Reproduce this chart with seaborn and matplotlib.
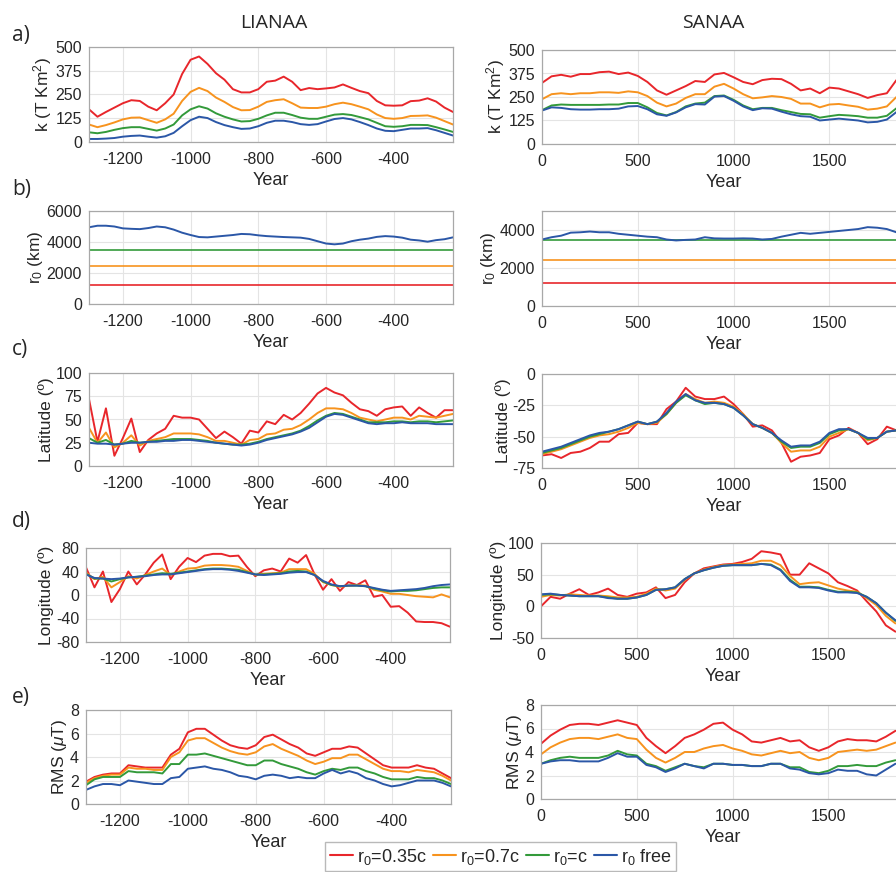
import pandas as pd
import seaborn as sns
import matplotlib.pyplot as plt
from matplotlib.lines import Line2D

# ---------------------------------------------------------------------------
# data
# ---------------------------------------------------------------------------
models = ["r$_0$=0.35c", "r$_0$=0.7c", "r$_0$=c", "r$_0$ free"]
colors = ["#e8262b", "#f7931e", "#339a3a", "#2b57a7"]

years_lianaa = list(range(-1300, -224, 25))
years_sanaa = list(range(0, 1851, 50))

# fixed r0 values (km)
r0_fixed = [1218, 2436, 3480]

# ---- LIANAA ----
k_lia_035 = [172, 133, 158, 181, 204, 220, 216, 186, 167, 204, 250, 358, 433, 450, 411, 362,
             328, 278, 261, 261, 278, 317, 323, 344, 317, 273, 284, 278, 282, 287, 303, 285,
             268, 257, 216, 193, 191, 193, 215, 218, 230, 213, 181, 158]
k_lia_07 = [92, 78, 89, 103, 119, 128, 129, 115, 101, 119, 149, 216, 264, 285, 268, 234,
            211, 184, 167, 168, 186, 211, 220, 225, 204, 181, 179, 179, 186, 199, 207, 199,
            186, 172, 145, 126, 122, 126, 137, 138, 140, 128, 110, 92]
k_lia_c = [51, 46, 53, 64, 73, 78, 78, 69, 60, 71, 92, 140, 172, 188, 176, 151,
           133, 119, 108, 110, 122, 140, 154, 154, 142, 128, 122, 122, 133, 144, 147, 142,
           131, 119, 101, 83, 80, 83, 90, 90, 89, 78, 66, 53]
k_lia_free = [16, 16, 18, 21, 28, 32, 34, 28, 23, 30, 48, 83, 115, 133, 126, 105,
              89, 78, 69, 71, 83, 101, 112, 112, 105, 94, 90, 94, 108, 121, 126, 119,
              105, 89, 71, 59, 57, 64, 71, 71, 73, 62, 48, 34]

r0_lia_free = [4950, 5050, 5050, 5000, 4880, 4850, 4830, 4900, 5000, 4950, 4800, 4600,
               4450, 4320, 4300, 4350, 4400, 4450, 4520, 4500, 4430, 4380, 4350, 4320,
               4300, 4280, 4200, 4050, 3900, 3850, 3900, 4050, 4150, 4220, 4330, 4380,
               4350, 4280, 4150, 4100, 4020, 4120, 4180, 4300]

lat_lia_035 = [72, 26, 62, 11, 30, 51, 15, 28, 35, 40, 54, 52, 52, 50, 40, 30,
               37, 31, 24, 38, 36, 48, 45, 55, 50, 57, 67, 78, 84, 79, 76, 68,
               61, 59, 54, 61, 63, 64, 54, 63, 57, 52, 60, 60]
lat_lia_07 = [41, 25, 36, 20, 25, 33, 22, 27, 29, 31, 35, 35, 35, 34, 31, 27,
              27, 25, 23, 28, 29, 34, 35, 39, 40, 44, 50, 57, 62, 62, 61, 57,
              52, 50, 48, 50, 52, 52, 50, 54, 53, 52, 54, 56]
lat_lia_c = [30, 25, 28, 23, 24, 27, 25, 26, 27, 28, 29, 29, 29, 28, 27, 25,
             24, 23, 23, 24, 26, 29, 31, 33, 35, 38, 43, 49, 54, 57, 56, 53,
             50, 47, 47, 47, 48, 48, 47, 48, 48, 47, 48, 49]
lat_lia_free = [25, 24, 24, 23, 24, 25, 25, 26, 26, 27, 27, 28, 28, 27, 26, 25,
                24, 23, 22, 23, 25, 28, 30, 32, 34, 37, 41, 47, 53, 56, 55, 52,
                49, 46, 45, 46, 46, 47, 46, 46, 46, 45, 45, 45]

lon_lia_035 = [47, 13, 40, -12, 10, 40, 18, 35, 55, 69, 27, 48, 63, 56, 67, 70,
               70, 66, 67, 48, 32, 42, 45, 40, 62, 55, 68, 35, 9, 27, 7, 22,
               17, 25, -3, 0, -20, -19, -30, -45, -46, -46, -48, -54]
lon_lia_07 = [38, 27, 31, 13, 22, 32, 28, 34, 40, 45, 34, 40, 45, 46, 50, 51,
              51, 50, 48, 41, 34, 36, 37, 38, 44, 44, 44, 36, 22, 17, 14, 16,
              17, 16, 9, 6, 2, 2, 0, -2, -3, -4, 1, -4]
lon_lia_c = [36, 28, 28, 23, 27, 30, 31, 33, 35, 37, 36, 38, 40, 42, 44, 45,
             45, 44, 43, 39, 35, 35, 36, 37, 40, 41, 40, 34, 23, 17, 15, 16,
             16, 15, 11, 8, 6, 7, 7, 8, 10, 12, 13, 13]
lon_lia_free = [35, 29, 28, 27, 28, 30, 31, 32, 34, 35, 35, 37, 39, 41, 43, 44,
                44, 43, 41, 38, 35, 34, 35, 36, 38, 39, 39, 34, 24, 18, 15, 16,
                16, 15, 12, 9, 7, 8, 9, 10, 12, 15, 17, 18]

rms_lia_035 = [1.9, 2.3, 2.5, 2.6, 2.6, 3.3, 3.2, 3.1, 3.1, 3.1, 4.2, 4.7, 6.1, 6.4, 6.4, 5.9,
               5.4, 5.0, 4.8, 4.7, 5.0, 5.7, 5.9, 5.5, 5.1, 4.8, 4.3, 4.1, 4.4, 4.7, 4.7, 4.9,
               4.8, 4.3, 3.8, 3.3, 3.1, 3.1, 3.1, 3.3, 3.1, 3.0, 2.6, 2.2]
rms_lia_07 = [1.8, 2.2, 2.4, 2.5, 2.5, 3.1, 3.0, 3.0, 2.9, 2.9, 4.0, 4.4, 5.4, 5.6, 5.6, 5.2,
              4.8, 4.5, 4.3, 4.2, 4.4, 4.9, 5.1, 4.7, 4.4, 4.1, 3.7, 3.4, 3.6, 3.9, 3.9, 4.2,
              4.2, 3.8, 3.4, 3.0, 2.8, 2.8, 2.7, 2.9, 2.8, 2.7, 2.4, 2.0]
rms_lia_c = [1.6, 2.1, 2.3, 2.3, 2.3, 2.8, 2.7, 2.7, 2.7, 2.6, 3.4, 3.4, 4.2, 4.2, 4.3, 4.1,
             3.9, 3.7, 3.5, 3.3, 3.3, 3.7, 3.7, 3.4, 3.2, 3.0, 2.7, 2.5, 2.8, 3.0, 2.9, 3.1,
             3.1, 2.8, 2.6, 2.3, 2.1, 2.1, 2.1, 2.3, 2.2, 2.2, 2.0, 1.7]
rms_lia_free = [1.2, 1.5, 1.7, 1.7, 1.6, 2.0, 1.9, 1.8, 1.7, 1.7, 2.2, 2.3, 3.0, 3.1, 3.2, 3.0,
                2.9, 2.7, 2.4, 2.3, 2.1, 2.4, 2.5, 2.4, 2.2, 2.3, 2.2, 2.2, 2.6, 2.9, 2.6, 2.8,
                2.6, 2.2, 2.0, 1.7, 1.5, 1.6, 1.8, 2.0, 2.0, 2.0, 1.8, 1.5]

# ---- SANAA ----
k_san_035 = [325, 360, 368, 358, 372, 372, 382, 385, 372, 380, 362, 330, 285, 262, 285, 308,
             335, 330, 370, 378, 355, 330, 318, 340, 347, 345, 320, 285, 295, 270, 300, 295,
             280, 265, 245, 260, 270, 340]
k_san_07 = [238, 265, 270, 265, 270, 270, 275, 275, 272, 280, 275, 255, 220, 200, 215, 245,
            265, 265, 305, 320, 295, 265, 243, 248, 255, 250, 240, 215, 215, 195, 210, 213,
            205, 198, 183, 188, 200, 250]
k_san_c = [180, 205, 210, 208, 208, 208, 208, 210, 210, 218, 218, 195, 165, 152, 170, 200,
           215, 220, 255, 258, 235, 205, 185, 192, 192, 180, 170, 160, 158, 140, 148, 155,
           152, 148, 140, 140, 150, 190]
k_san_free = [178, 195, 192, 185, 183, 183, 185, 185, 188, 200, 202, 185, 158, 150, 168, 195,
              212, 210, 252, 255, 230, 200, 180, 190, 188, 172, 158, 148, 145, 125, 130, 135,
              130, 125, 115, 118, 130, 170]

r0_san_free = [3500, 3620, 3700, 3860, 3880, 3920, 3880, 3880, 3800, 3750, 3700, 3650,
               3620, 3500, 3450, 3480, 3500, 3620, 3560, 3550, 3550, 3560, 3550, 3500,
               3530, 3650, 3750, 3850, 3800, 3850, 3900, 3950, 4000, 4050, 4150, 4120,
               4050, 3880]

lat_san_035 = [-65, -64, -67, -63, -62, -59, -54, -54, -48, -47, -39, -40, -40, -28, -22, -11,
               -18, -20, -20, -18, -24, -32, -42, -41, -45, -55, -70, -66, -65, -63, -52, -49,
               -43, -47, -56, -52, -42, -45]
lat_san_07 = [-64, -62, -60, -57, -54, -51, -49, -48, -46, -43, -39, -40, -39, -32, -23, -16,
              -20, -23, -22, -23, -26, -32, -40, -43, -47, -55, -62, -61, -61, -58, -50, -47,
              -44, -47, -53, -51, -46, -45]
lat_san_c = [-63, -61, -59, -56, -53, -50, -48, -46, -44, -41, -38, -40, -38, -32, -23, -17,
             -21, -24, -23, -24, -27, -33, -40, -43, -47, -54, -59, -58, -58, -55, -48, -45,
             -44, -47, -52, -51, -46, -45]
lat_san_free = [-62, -60, -58, -55, -52, -49, -47, -46, -44, -41, -38, -40, -38, -31, -22, -16,
                -21, -23, -23, -24, -27, -33, -40, -43, -47, -53, -58, -57, -57, -54, -47, -44,
                -44, -47, -51, -51, -46, -45]

lon_san_035 = [0, 15, 12, 20, 27, 18, 22, 28, 18, 15, 20, 22, 30, 13, 18, 38,
               52, 60, 63, 66, 67, 70, 75, 87, 85, 82, 50, 50, 68, 60, 52, 38,
               32, 25, 8, -8, -30, -40]
lon_san_07 = [15, 18, 17, 19, 18, 17, 17, 16, 14, 14, 15, 20, 28, 25, 28, 42,
              52, 58, 62, 65, 66, 67, 68, 72, 72, 65, 48, 35, 37, 38, 33, 28,
              25, 23, 13, 2, -15, -27]
lon_san_c = [18, 19, 18, 17, 16, 16, 16, 14, 12, 12, 14, 18, 26, 27, 30, 43,
             52, 57, 61, 64, 65, 65, 65, 67, 66, 58, 42, 31, 31, 30, 26, 23,
             23, 22, 15, 5, -10, -23]
lon_san_free = [19, 20, 18, 17, 16, 16, 16, 13, 12, 12, 14, 18, 26, 27, 30, 43,
                52, 57, 61, 64, 65, 65, 65, 67, 65, 57, 40, 30, 30, 29, 25, 22,
                22, 21, 15, 5, -10, -22]

rms_san_035 = [4.7, 5.4, 5.9, 6.3, 6.4, 6.4, 6.3, 6.5, 6.7, 6.5, 6.3, 5.2, 4.5, 3.9, 4.5, 5.2,
               5.5, 5.9, 6.4, 6.5, 5.9, 5.5, 4.9, 4.8, 5.0, 5.2, 4.9, 5.0, 4.4, 4.1, 4.4, 4.9,
               5.1, 5.0, 5.0, 4.9, 5.3, 5.8]
rms_san_07 = [3.8, 4.4, 4.8, 5.1, 5.2, 5.2, 5.1, 5.3, 5.5, 5.2, 5.1, 4.2, 3.5, 3.1, 3.5, 4.0,
              4.0, 4.3, 4.5, 4.6, 4.3, 4.1, 3.8, 3.7, 3.9, 4.1, 3.9, 4.0, 3.5, 3.3, 3.5, 4.0,
              4.1, 4.2, 4.1, 4.2, 4.5, 4.8]
rms_san_c = [3.0, 3.3, 3.5, 3.6, 3.5, 3.5, 3.5, 3.7, 4.1, 3.8, 3.7, 3.0, 2.8, 2.4, 2.7, 3.0,
             2.8, 2.7, 3.0, 3.0, 2.9, 2.9, 2.8, 2.8, 3.0, 3.0, 2.7, 2.7, 2.3, 2.2, 2.4, 2.8,
             2.8, 2.9, 2.8, 2.8, 3.1, 3.3]
rms_san_free = [3.0, 3.2, 3.3, 3.3, 3.2, 3.2, 3.2, 3.5, 3.9, 3.6, 3.6, 2.9, 2.7, 2.3, 2.6, 3.0,
                2.8, 2.6, 3.0, 3.0, 2.9, 2.9, 2.8, 2.8, 3.0, 3.0, 2.6, 2.5, 2.2, 2.1, 2.2, 2.5,
                2.4, 2.4, 2.1, 2.0, 2.5, 3.0]

ylabels = ["k (T Km$^2$)", "r$_0$ (km)", "Latitude (º)", "Longitude (º)", "RMS ($\\mu$T)"]
panel_tags = ["a)", "b)", "c)", "d)", "e)"]

lia_xticks = [-1200, -1000, -800, -600, -400]
san_xticks = [0, 500, 1000, 1500]
lia_yticks = [[0, 125, 250, 375, 500], [0, 2000, 4000, 6000], [0, 25, 50, 75, 100],
              [-80, -40, 0, 40, 80], [0, 2, 4, 6, 8]]
san_yticks = [[0, 125, 250, 375, 500], [0, 2000, 4000], [-75, -50, -25, 0],
              [-50, 0, 50, 100], [0, 2, 4, 6, 8]]
lia_ylims = [(0, 500), (0, 6000), (0, 100), (-80, 80), (0, 8)]
san_ylims = [(0, 500), (0, 5000), (-75, 0), (-50, 100), (0, 8)]

FIG_W, FIG_H = 896, 872


def to_long(years, series):
    """Stack a list of per-model series into a long dataframe."""
    frames = []
    for name, vals in zip(models, series):
        frames.append(pd.DataFrame({"Year": years, "value": vals, "model": name}))
    return pd.concat(frames, ignore_index=True)


def add_axes_px(fig, left, top, right, bottom):
    """Add axes from pixel coordinates (origin top-left)."""
    return fig.add_axes([left / FIG_W, 1 - bottom / FIG_H,
                         (right - left) / FIG_W, (bottom - top) / FIG_H])


def style_axes(ax, xticks, yticks, ylim, xlim, ylabel):
    ax.set_xlim(*xlim)
    ax.set_ylim(*ylim)
    ax.set_xticks(xticks)
    ax.set_yticks(yticks)
    ax.grid(True, color="#e4e4e4", linewidth=0.8)
    ax.set_axisbelow(True)
    for sp in ax.spines.values():
        sp.set_color("#a8a8a8")
        sp.set_linewidth(0.9)
    ax.tick_params(axis="both", direction="in", length=3, color="#a8a8a8",
                   labelsize=11.5, labelcolor="#262626")
    ax.tick_params(axis="x", pad=7)
    ax.tick_params(axis="y", pad=5)
    ax.set_xlabel("Year", fontsize=13, color="#262626", labelpad=4)
    ax.set_ylabel(ylabel, fontsize=12.5, color="#262626", labelpad=1)


def draw_column(fig, years, panels, r0_free, boxes, xlim, xticks, yticks, ylims):
    for i, box in enumerate(boxes):
        ax = add_axes_px(fig, *box)
        if i == 1:
            for val, col in zip(r0_fixed, colors[:3]):
                ax.axhline(val, color=col, lw=1.4, alpha=0.85)
            sns.lineplot(x=years, y=r0_free, color=colors[3], lw=1.4, ax=ax)
        else:
            df = to_long(years, panels[i])
            sns.lineplot(data=df, x="Year", y="value", hue="model", hue_order=models,
                         palette=colors, lw=1.4, legend=False, estimator=None, ax=ax)
        style_axes(ax, xticks, yticks[i], ylims[i], xlim, ylabels[i])


sns.set_theme(style="white")
plt.rcParams["font.family"] = ["Liberation Sans", "DejaVu Sans"]
plt.rcParams["mathtext.fontset"] = "custom"
plt.rcParams["mathtext.rm"] = "Liberation Sans"
plt.rcParams["mathtext.it"] = "Liberation Sans:italic"
plt.rcParams["axes.unicode_minus"] = False

fig = plt.figure(figsize=(FIG_W / 100, FIG_H / 100), dpi=100)

lia_panels = [[k_lia_035, k_lia_07, k_lia_c, k_lia_free], None,
              [lat_lia_035, lat_lia_07, lat_lia_c, lat_lia_free],
              [lon_lia_035, lon_lia_07, lon_lia_c, lon_lia_free],
              [rms_lia_035, rms_lia_07, rms_lia_c, rms_lia_free]]
san_panels = [[k_san_035, k_san_07, k_san_c, k_san_free], None,
              [lat_san_035, lat_san_07, lat_san_c, lat_san_free],
              [lon_san_035, lon_san_07, lon_san_c, lon_san_free],
              [rms_san_035, rms_san_07, rms_san_c, rms_san_free]]

lia_boxes = [(89, 47, 453, 142), (89, 211, 453, 304), (89, 373, 453, 466),
             (86, 548, 450, 642), (86, 710, 451, 804)]
san_boxes = [(542, 50, 906, 144), (542, 211, 906, 306), (542, 374, 906, 468),
             (541, 543, 905, 638), (541, 705, 905, 799)]

draw_column(fig, years_lianaa, lia_panels, r0_lia_free, lia_boxes, (-1300, -225),
            lia_xticks, lia_yticks, lia_ylims)
draw_column(fig, years_sanaa, san_panels, r0_san_free, san_boxes, (0, 1900),
            san_xticks, san_yticks, san_ylims)

# column titles and panel tags
fig.text(274 / FIG_W, 1 - 23 / FIG_H, "LIANAA", ha="center", va="center",
         fontsize=14, family=["Open Sans", "DejaVu Sans"], color="#262626")
fig.text(713 / FIG_W, 1 - 23 / FIG_H, "SANAA", ha="center", va="center",
         fontsize=14, family=["Open Sans", "DejaVu Sans"], color="#262626")
for tag, y in zip(panel_tags, [35, 189, 350, 522, 697]):
    fig.text(12 / FIG_W, 1 - y / FIG_H, tag, ha="left", va="center",
             fontsize=15, family=["Open Sans", "DejaVu Sans"], color="#262626")

# legend along the bottom
handles = [Line2D([0, 1], [0, 0], color=c, lw=1.5) for c in colors]
fig.legend(handles, models, loc="upper left", bbox_to_anchor=(325 / FIG_W, 1 - 842 / FIG_H),
           ncol=4, fontsize=13, frameon=True, fancybox=False, edgecolor="#a8a8a8",
           handlelength=1.3, handletextpad=0.2, columnspacing=0.35, borderpad=0.25,
           borderaxespad=0)

fig.savefig("out.png", dpi=100)
